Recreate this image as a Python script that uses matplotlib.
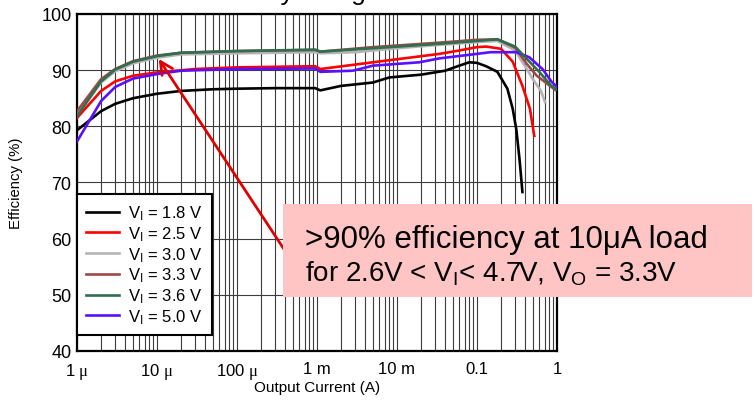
import matplotlib
matplotlib.use('Agg')
import matplotlib.pyplot as plt
from matplotlib.patches import Rectangle
from matplotlib.ticker import LogLocator, NullFormatter, FixedLocator

plt.rcParams['font.family'] = ['Liberation Sans', 'DejaVu Sans']
plt.rcParams['mathtext.fontset'] = 'custom'
plt.rcParams['mathtext.rm'] = 'Liberation Serif'

# Efficiency curves, output current in A, efficiency in %
i_18 = [1e-6, 2e-6, 3e-6, 5e-6, 1e-5, 2e-5, 5e-5, 1e-4, 3e-4, 9.5e-4, 1.1e-3, 2e-3, 5e-3, 8e-3,
        2e-2, 4e-2, 6e-2, 8e-2, 0.1, 0.13, 0.18, 0.24, 0.28, 0.31, 0.34, 0.37]
eff_18 = [79.3, 82.7, 84.0, 85.0, 85.8, 86.3, 86.6, 86.7, 86.8, 86.8, 86.4, 87.2, 87.8, 88.7,
          89.2, 89.9, 90.8, 91.4, 91.3, 90.7, 89.7, 86.7, 83.1, 79.5, 74.2, 68.3]

i_25 = [1e-6, 2e-6, 3e-6, 5e-6, 1e-5, 3e-5, 1e-4, 9.5e-4, 1.1e-3, 5e-3, 3.4e-2, 6e-2, 0.1, 0.13,
        0.2, 0.28, 0.37, 0.46, 0.52]
eff_25 = [81.5, 86.3, 88.0, 89.0, 89.6, 90.2, 90.5, 90.7, 90.2, 91.4, 92.9, 93.5, 94.1, 94.2,
          93.8, 91.5, 87.2, 83.1, 78.3]

i_30 = [1e-6, 2e-6, 3e-6, 5e-6, 1e-5, 2e-5, 1e-4, 9.5e-4, 1.1e-3, 3e-3, 1e-2, 3.4e-2, 0.1, 0.18,
        0.3, 0.42, 0.5, 0.63, 0.71]
eff_30 = [82.0, 87.8, 89.8, 91.2, 92.2, 92.8, 93.0, 93.2, 93.0, 93.2, 93.9, 94.5, 95.0, 95.2,
          93.5, 90.2, 88.4, 86.3, 84.3]

i_33 = [1e-6, 2e-6, 3e-6, 5e-6, 1e-5, 2e-5, 1e-4, 9.5e-4, 1.1e-3, 5e-3, 3.4e-2, 0.1, 0.18,
        0.3, 0.42, 0.56, 0.82, 0.95]
eff_33 = [82.7, 88.4, 90.2, 91.6, 92.6, 93.1, 93.4, 93.6, 93.3, 94.1, 94.9, 95.4, 95.5,
          94.0, 91.1, 89.0, 87.2, 86.5]

i_36 = [1e-6, 2e-6, 3e-6, 5e-6, 1e-5, 2e-5, 1e-4, 9.5e-4, 1.1e-3, 5e-3, 3.4e-2, 0.1, 0.18,
        0.3, 0.42, 0.6, 0.85, 1.0]
eff_36 = [81.8, 88.0, 90.1, 91.5, 92.5, 93.1, 93.4, 93.65, 93.3, 93.9, 94.7, 95.2, 95.5,
          94.2, 92.0, 89.7, 87.2, 86.5]

i_50 = [1e-6, 2e-6, 3e-6, 5e-6, 1e-5, 2e-5, 1e-4, 9.5e-4, 1.1e-3, 2.8e-3, 5e-3, 1.9e-2, 3.4e-2,
        0.1, 0.147, 0.31, 0.45, 0.66, 0.86, 1.0]
eff_50 = [77.3, 84.5, 87.0, 88.5, 89.3, 89.9, 90.2, 90.3, 89.7, 89.9, 90.8, 91.4, 92.1,
          92.9, 93.2, 93.2, 92.3, 90.2, 87.9, 87.0]

x_ticks = [1e-6, 1e-5, 1e-4, 1e-3, 1e-2, 0.1, 1]
x_labels = [r'1 $\mathrm{\mu}$', r'10 $\mathrm{\mu}$', r'100 $\mathrm{\mu}$', '1 m', '10 m', '0.1', '1']
y_ticks = [40, 50, 60, 70, 80, 90, 100]

fig = plt.figure(figsize=(7.55, 4.02), dpi=100)
ax = fig.add_axes([0.102, 0.1244, 0.6357, 0.8383])

series = [
    (i_18, eff_18, 'black', '1.8', 3),
    (i_25, eff_25, '#ff0000', '2.5', 4),
    (i_30, eff_30, '#b4b4b4', '3.0', 5),
    (i_33, eff_33, '#a04848', '3.3', 6),
    (i_36, eff_36, '#2f6e4f', '3.6', 8),
    (i_50, eff_50, '#5a10ff', '5.0', 7),
]
for xs, ys, c, v, z in series:
    ax.plot(xs, ys, color=c, lw=1.9, zorder=z,
            label=r'$\mathregular{V_I}$ = ' + v + ' V')

ax.set_xscale('log')
ax.set_xlim(1e-6, 1)
ax.set_ylim(40, 100)
ax.xaxis.set_major_locator(FixedLocator(x_ticks))
ax.set_xticklabels(x_labels)
ax.xaxis.set_minor_locator(LogLocator(base=10, subs=range(2, 10)))
ax.xaxis.set_minor_formatter(NullFormatter())
ax.set_yticks(y_ticks)
ax.tick_params(which='both', length=0)
ax.tick_params(axis='x', pad=7, labelsize=12)
ax.tick_params(axis='y', pad=4, labelsize=13)

ax.grid(which='both', axis='x', color='#3c3c3c', lw=0.8)
ax.grid(which='major', axis='y', color='#3c3c3c', lw=0.8)
ax.set_axisbelow(True)
for s in ax.spines.values():
    s.set_linewidth(1.6)

ax.set_xlabel('Output Current (A)', fontsize=11)
ax.set_ylabel('Efficiency (%)', fontsize=10.7)
ax.xaxis.set_label_coords(0.5, -0.085)
ax.yaxis.set_label_coords(-0.112, 0.5)

leg = ax.legend(loc='lower left', bbox_to_anchor=(0, 0.0475), borderaxespad=0,
                fontsize=12, handlelength=1.95, handletextpad=0.55, labelspacing=0.12,
                fancybox=False, framealpha=1, edgecolor='black', borderpad=0.55)
leg.get_frame().set_linewidth(1.5)
leg.set_zorder(20)

# pointer to the 10 uA operating point
ax.annotate('', xy=(1.05e-5, 92.0), xytext=(6e-4, 54.0),
            arrowprops=dict(arrowstyle='->,head_length=0.9,head_width=0.45',
                            color='#e00000', lw=2.0, shrinkA=0, shrinkB=0),
            zorder=9)

fig.patches.append(Rectangle((0.3748, 0.2587), 0.621, 0.2313, transform=fig.transFigure,
                             facecolor='#ffc4c4', edgecolor='none', zorder=10))
fig.text(0.404, 0.383, '>90% efficiency at 10\u03bcA load', fontsize=22.5, zorder=11)
fig.text(0.404, 0.301, r'for 2.6V < V$_\mathregular{I}$< 4.7V, V$_\mathregular{O}$ = 3.3V',
         fontsize=20, zorder=11)

# title sits above the top edge, only its descenders show
fig.text(0.421, 0.9988, 'Efficiency at Light Load', fontsize=19, ha='center', va='baseline')

fig.savefig('out.png', dpi=100)
